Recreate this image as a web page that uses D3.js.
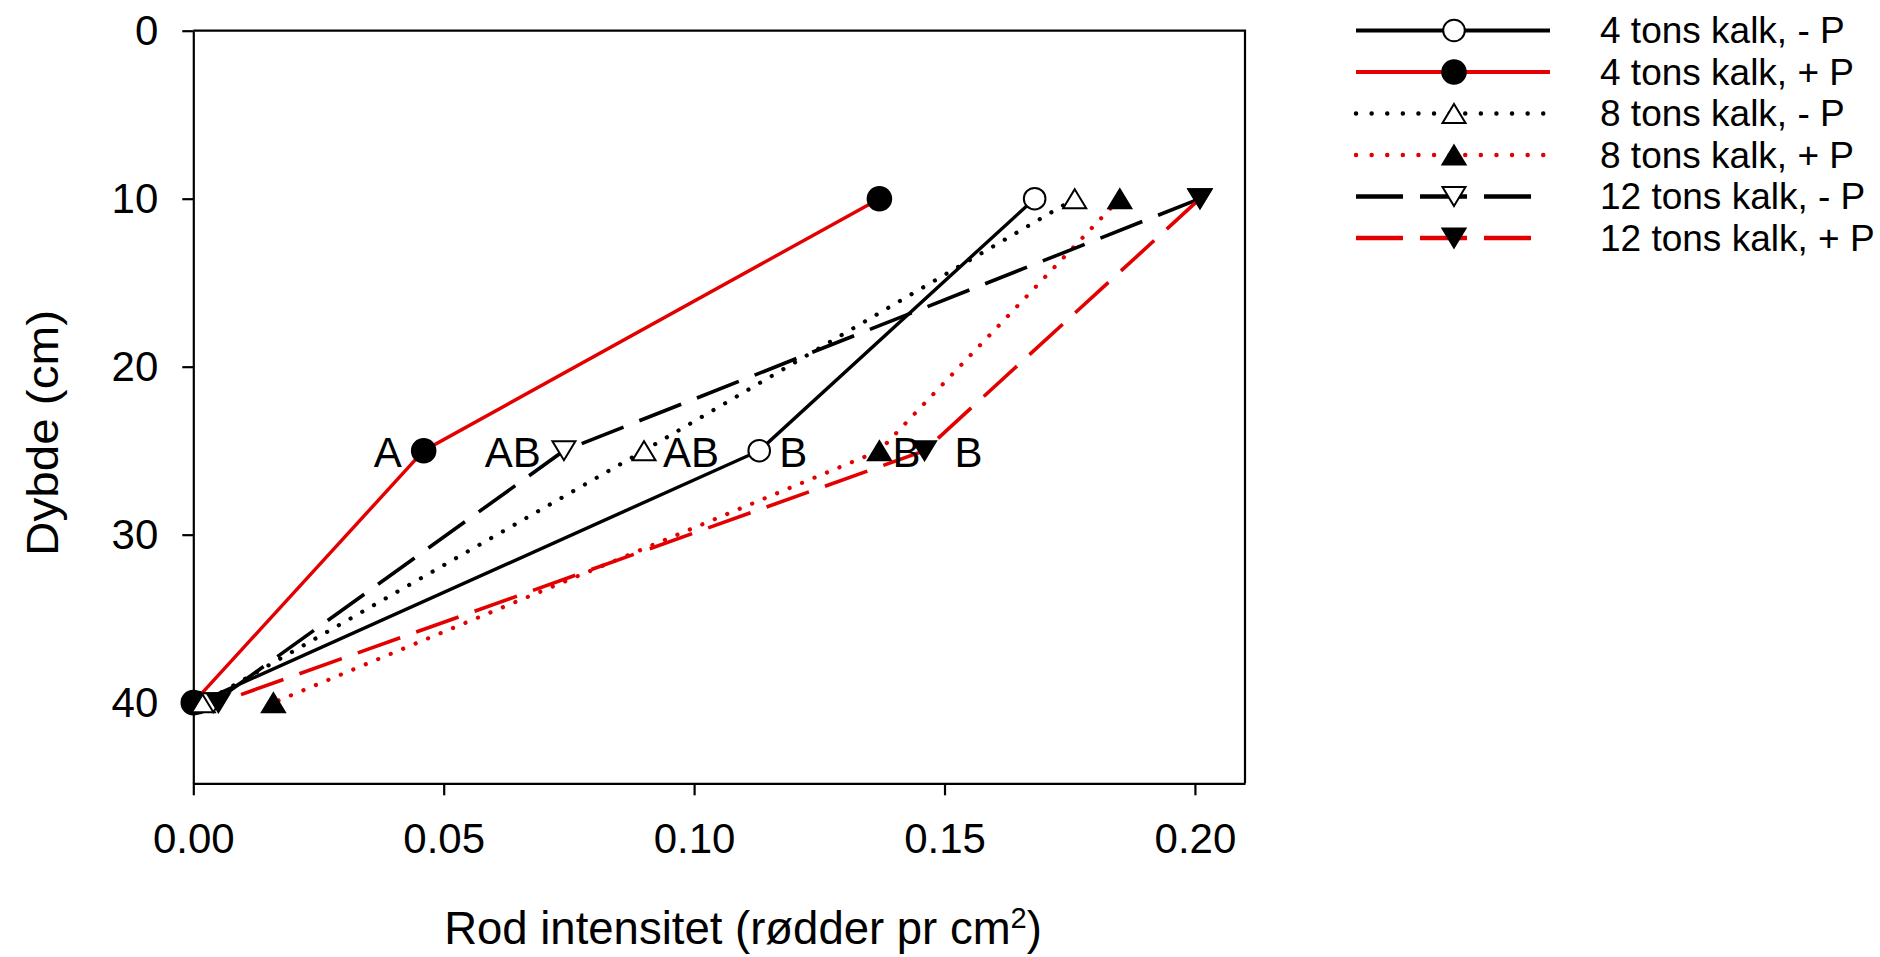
<!DOCTYPE html>
<html>
<head>
<meta charset="utf-8">
<script src="https://cdn.jsdelivr.net/npm/d3@7/dist/d3.min.js"></script>
<style>
  html, body { margin: 0; padding: 0; background: #fff; }
  svg { display: block; }
  text { font-family: "Liberation Sans", Arial, Helvetica, sans-serif; fill: #000; }
</style>
</head>
<body>
<svg id="chart" width="1880" height="957"></svg>
<script>
// Root intensity by soil depth for three lime rates, with and without P
const depths = [10, 25, 40];
const seriesNames = [
  "4 tons kalk, - P",
  "4 tons kalk, + P",
  "8 tons kalk, - P",
  "8 tons kalk, + P",
  "12 tons kalk, - P",
  "12 tons kalk, + P"
];
const lime4NoP  = [0.168, 0.113, 0.001];
const lime4P    = [0.137, 0.046, 0.000];
const lime8NoP  = [0.176, 0.090, 0.002];
const lime8P    = [0.185, 0.137, 0.016];
const lime12NoP = [0.201, 0.074, 0.004];
const lime12P   = [0.201, 0.146, 0.005];
const seriesValues = [lime4NoP, lime4P, lime8NoP, lime8P, lime12NoP, lime12P];
// significance letters shown at 25 cm
const groupLetters = ["B", "A", "AB", "B", "AB", "B"];
const labelDepth = 25;

const xTicks = [0, 0.05, 0.10, 0.15, 0.20];
const yTicks = [0, 10, 20, 30, 40];

// drawing styles for each series
const RED = "#e30000";
const styles = [
  { stroke: "#000", line: "solid",  marker: "circle",  fill: "#fff" },
  { stroke: RED,    line: "solid",  marker: "circle",  fill: "#000" },
  { stroke: "#000", line: "dotted", marker: "triUp",   fill: "#fff" },
  { stroke: RED,    line: "dotted", marker: "triUp",   fill: "#000" },
  { stroke: "#000", line: "dashed", marker: "triDown", fill: "#fff" },
  { stroke: RED,    line: "dashed", marker: "triDown", fill: "#000" }
];
const lineKinds = {
  solid:  { plot: { dash: null, width: 3.4 },       legend: { dash: null, width: 4.2, end: 1550 },       cap: "butt" },
  dotted: { plot: { dash: "0.1 13.4", width: 4.2 }, legend: { dash: "0.1 15.5", width: 4.4, end: 1550 }, cap: "round" },
  dashed: { plot: { dash: "45 17", width: 3.6 },    legend: { dash: "47 17", width: 4.4, end: 1532 },    cap: "butt" }
};
// letter placement relative to the 25 cm marker
const letterPlacement = [
  { anchor: "start", dx: 20 },
  { anchor: "end",   dx: -22 },
  { anchor: "start", dx: 19 },
  { anchor: "start", dx: 13 },
  { anchor: "end",   dx: -23 },
  { anchor: "start", dx: 30 }
];

const svg = d3.select("#chart");
const plot = { left: 193.3, right: 1245, top: 30.7, bottom: 783.3 };

const x = d3.scaleLinear().domain([0, 0.21]).range([plot.left, plot.right]);
const y = d3.scaleLinear().domain([0, 44.8]).range([plot.top, plot.bottom]);

// axes
const xAxis = svg.append("g")
  .attr("transform", `translate(0,${plot.bottom})`)
  .call(d3.axisBottom(x).tickValues(xTicks).tickFormat(d3.format(".2f"))
    .tickSize(12).tickSizeOuter(0).tickPadding(28));
const yAxis = svg.append("g")
  .attr("transform", `translate(${plot.left},0)`)
  .call(d3.axisLeft(y).tickValues(yTicks).tickFormat(d3.format("d"))
    .tickSize(11).tickSizeOuter(0).tickPadding(24));

[xAxis, yAxis].forEach(g => {
  g.select(".domain").attr("stroke", "#000").attr("stroke-width", 2.2);
  g.selectAll(".tick line").attr("stroke", "#000").attr("stroke-width", 2.2);
  g.selectAll(".tick text")
    .style("font-family", "'Liberation Sans', Arial, sans-serif")
    .style("font-size", "42px").attr("fill", "#000");
});

// top and right frame edges
svg.append("path")
  .attr("d", `M${plot.left},${plot.top}H${plot.right}V${plot.bottom}`)
  .attr("fill", "none").attr("stroke", "#000").attr("stroke-width", 2.2);

// axis titles
svg.append("text")
  .attr("transform", "translate(42,433) rotate(-90)")
  .attr("text-anchor", "middle").attr("dominant-baseline", "central")
  .attr("textLength", 246).attr("lengthAdjust", "spacingAndGlyphs")
  .style("font-size", "44px")
  .text("Dybde (cm)");

const xTitle = svg.append("text")
  .attr("x", 743).attr("y", 944)
  .attr("text-anchor", "middle")
  .style("font-size", "45.5px");
xTitle.append("tspan").text("Rod intensitet (rødder pr cm");
xTitle.append("tspan").attr("dy", -16).style("font-size", "29px").text("2");
xTitle.append("tspan").attr("dy", 16).text(")");

// marker drawing
function markerPath(kind) {
  const w = 11.5, h = 9.5;
  return kind === "triUp"
    ? `M0,${-h}L${w},${h}L${-w},${h}Z`
    : `M0,${h}L${w},${-h}L${-w},${-h}Z`;
}
function drawMarker(g, cx, cy, st) {
  if (st.marker === "circle") {
    const r = st.fill === "#000" ? 11.8 : 10.8;
    g.append("circle").attr("cx", cx).attr("cy", cy).attr("r", r)
      .attr("fill", st.fill).attr("stroke", "#000").attr("stroke-width", 2);
  } else {
    g.append("path").attr("d", markerPath(st.marker))
      .attr("transform", `translate(${cx},${cy})`)
      .attr("fill", st.fill).attr("stroke", "#000").attr("stroke-width", 2)
      .attr("stroke-linejoin", "miter");
  }
}

const line = d3.line().x(d => x(d.v)).y(d => y(d.depth));

const seriesLayer = svg.append("g");
seriesNames.forEach((name, i) => {
  const st = styles[i];
  const lk = lineKinds[st.line];
  const pts = depths.map((depth, j) => ({ depth, v: seriesValues[i][j] }));
  const g = seriesLayer.append("g").attr("class", "series");
  g.append("path").datum(pts).attr("d", line)
    .attr("fill", "none").attr("stroke", st.stroke).attr("stroke-width", lk.plot.width)
    .attr("stroke-dasharray", lk.plot.dash).attr("stroke-linecap", lk.cap);
  pts.forEach(p => drawMarker(g, x(p.v), y(p.depth), st));
});

// significance letters
seriesNames.forEach((name, i) => {
  const j = depths.indexOf(labelDepth);
  const pl = letterPlacement[i];
  svg.append("text")
    .attr("x", x(seriesValues[i][j]) + pl.dx)
    .attr("y", y(labelDepth) + 16)
    .attr("text-anchor", pl.anchor)
    .style("font-size", "42px")
    .text(groupLetters[i]);
});

// legend
const legend = svg.append("g");
const legX0 = 1356, legSym = 1454, legText = 1600;
seriesNames.forEach((name, i) => {
  const st = styles[i];
  const lk = lineKinds[st.line];
  const ly = 30.5 + i * 41.5;
  legend.append("line").attr("x1", legX0).attr("x2", lk.legend.end).attr("y1", ly).attr("y2", ly)
    .attr("stroke", st.stroke).attr("stroke-width", lk.legend.width)
    .attr("stroke-dasharray", lk.legend.dash).attr("stroke-linecap", lk.cap);
  drawMarker(legend, legSym, ly, st);
  legend.append("text").attr("x", legText).attr("y", ly)
    .attr("dominant-baseline", "central")
    .style("font-size", "37px")
    .text(name);
});
</script>
</body>
</html>
